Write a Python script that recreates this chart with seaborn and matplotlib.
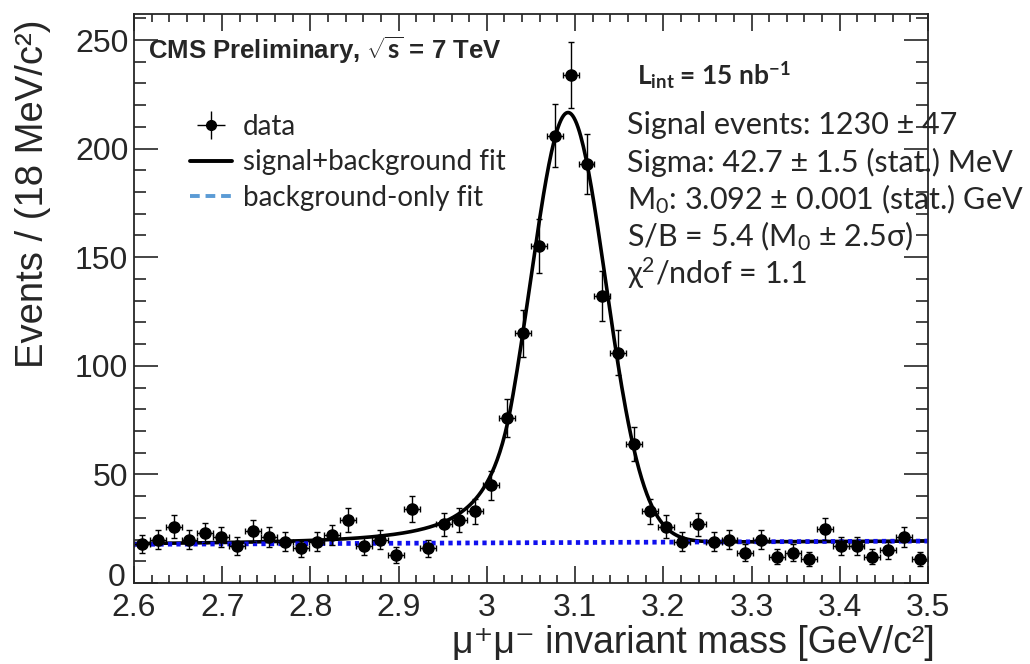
import numpy as np
import pandas as pd
import matplotlib
matplotlib.use("Agg")
import matplotlib.pyplot as plt
import seaborn as sns
from matplotlib.lines import Line2D
from matplotlib.ticker import MultipleLocator, FuncFormatter

# histogram: 18 MeV bins from 2.6 to 3.5 GeV/c^2
bin_low = 2.6
bin_width = 0.018
counts = [18, 20, 26, 20, 23, 21, 17, 24, 21, 19,
          16, 19, 22, 29, 17, 20, 13, 34, 16, 27,
          29, 33, 45, 76, 115, 155, 206, 234, 193, 132,
          106, 64, 33, 26, 19, 27, 19, 20, 14, 20,
          12, 14, 11, 25, 17, 17, 12, 15, 21, 11]

# fit parameters (Crystal Ball signal + linear background)
m0 = 3.092
sigma = 0.0427
cb_alpha = 1.5
cb_n = 2.8
sig_amp = 198.0
bkg_p0 = 17.8
bkg_p1 = 1.67

xtick_labels = ["2.6", "2.7", "2.8", "2.9", "3", "3.1", "3.2", "3.3", "3.4", "3.5"]
stats_lines = [
    "Signal events: 1230 \u00b1 47",
    "Sigma: 42.7 \u00b1 1.5 (stat.) MeV",
    "M$_0$: 3.092 \u00b1 0.001 (stat.) GeV",
    "S/B = 5.4 (M$_0$ \u00b1 2.5\u03c3)",
    "\u03c7$^2$/ndof = 1.1",
]

sns.set_style("ticks")
plt.rcParams['font.family'] = ['Liberation Sans', 'DejaVu Sans']
plt.rcParams['mathtext.fontset'] = 'custom'
plt.rcParams['mathtext.rm'] = 'Lato'
plt.rcParams['mathtext.it'] = 'Lato:italic'
plt.rcParams['mathtext.bf'] = 'Lato:bold'

counts = np.array(counts, dtype=float)
centers = bin_low + bin_width * (np.arange(len(counts)) + 0.5)
errs = np.sqrt(counts)


def crystal_ball(x):
    t = (x - m0) / sigma
    a = (cb_n / cb_alpha) ** cb_n * np.exp(-cb_alpha ** 2 / 2)
    b = cb_n / cb_alpha - cb_alpha
    core = np.exp(-t ** 2 / 2)
    tail = a * np.abs(b - t) ** (-cb_n)
    return sig_amp * np.where(t > -cb_alpha, core, tail)


xs = np.linspace(2.6, 3.5, 600)
fit_df = pd.DataFrame({"mass": xs,
                       "bkg": bkg_p0 + bkg_p1 * (xs - 2.6)})
fit_df["total"] = fit_df["bkg"] + crystal_ball(xs)

fig = plt.figure(figsize=(10.3, 6.64), dpi=100)
ax = fig.add_axes([0.130, 0.122, 0.771, 0.857])

sns.lineplot(data=fit_df, x="mass", y="total", ax=ax, color="black", lw=2.6)
sns.lineplot(data=fit_df, x="mass", y="bkg", ax=ax, color="#1010ee", lw=3.4,
             linestyle=(0, (0.9, 0.9)))
ax.errorbar(centers, counts, yerr=errs, xerr=bin_width / 2, fmt="o", color="black",
            ms=8, elinewidth=1.0, capsize=2.5, capthick=1.0)

ax.set_xlim(2.6, 3.5)
ax.set_ylim(0, 262)
ax.xaxis.set_major_locator(MultipleLocator(0.1))
ax.xaxis.set_minor_locator(MultipleLocator(0.02))
ax.yaxis.set_major_locator(MultipleLocator(50))
ax.yaxis.set_minor_locator(MultipleLocator(10))
ax.set_xticks(np.arange(2.6, 3.51, 0.1))
ax.set_xticklabels(xtick_labels)
# the "0" is drawn separately, a bit higher, so it clears "2.6"
ax.yaxis.set_major_formatter(FuncFormatter(lambda v, p: "" if v == 0 else f"{v:g}"))
ax.tick_params(which="both", direction="in", top=True, right=True, width=1.2)
ax.tick_params(axis="x", which="major", length=12, labelsize=23, pad=7)
ax.tick_params(axis="x", which="minor", length=6)
ax.tick_params(axis="y", which="major", length=17, labelsize=23, pad=4)
ax.tick_params(axis="y", which="minor", length=8.5)
for s in ax.spines.values():
    s.set_linewidth(1.3)
ax.text(-0.011, -0.017, "0", transform=ax.transAxes, ha="right", va="bottom",
        fontsize=23)

ax.set_xlabel("\u03bc\u207a\u03bc\u207b invariant mass [GeV/c\u00b2]", loc="right", fontsize=27,
              family=['Liberation Sans', 'DejaVu Sans'])
ax.xaxis.set_label_coords(1.008, -0.073)
ax.set_ylabel("Events / (18 MeV/c\u00b2)", loc="top", fontsize=27.5,
              family=['Liberation Sans', 'DejaVu Sans'])
ax.yaxis.set_label_coords(-0.105, 0.99)

fig.text(148 / 1030, 1 - 50 / 664, "CMS Preliminary, $\\sqrt{\\mathbf{s}}$ = 7 TeV", fontsize=18.5,
         fontweight="bold", va="center", ha="left")
fig.text(637 / 1030, 1 - 75 / 664, "L$_{\\mathbf{int}}$ = 15 nb$^{\\mathbf{-1}}$",
         fontsize=19, fontweight="bold", va="center", ha="left", family="Lato")
for i, line in enumerate(stats_lines):
    fig.text(627 / 1030, 1 - (125 + 37 * i) / 664, line, fontsize=22,
             va="center", ha="left", family="Lato")

handles = [
    ax.errorbar([], [], yerr=[], xerr=[], fmt="o", color="black", ms=7,
                elinewidth=1.0, capsize=2.5),
    Line2D([], [], color="black", lw=2.8),
    Line2D([], [], color="#5b9bd5", lw=2.8, linestyle=(0, (2.5, 1.5))),
]
ax.legend(handles, ["data", "signal+background fit", "background-only fit"],
          loc="upper left", bbox_to_anchor=(190 / 1030, 1 - 114 / 664),
          bbox_transform=fig.transFigure, frameon=False, borderpad=0, borderaxespad=0,
          prop={"family": "Lato", "size": 20}, handlelength=1.5,
          labelspacing=0.34, handletextpad=0.4)

fig.savefig("out.png", dpi=100)
